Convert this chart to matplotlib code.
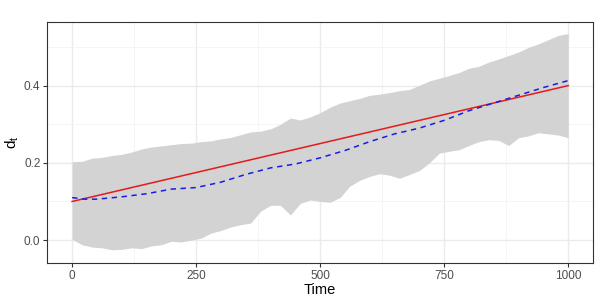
import matplotlib
matplotlib.use("Agg")
import matplotlib.pyplot as plt
from matplotlib.ticker import MultipleLocator

# time grid of the ribbon
band_t = [0, 20, 40, 60, 80, 100, 120, 140, 160, 180, 200, 220, 240, 260, 280, 300,
          320, 340, 360, 380, 400, 420, 440, 460, 480, 500, 520, 540, 560, 580, 600,
          620, 640, 660, 680, 700, 720, 740, 760, 780, 800, 820, 840, 860, 880, 900,
          920, 940, 960, 980, 1000]
band_upper = [0.203, 0.204, 0.212, 0.214, 0.219, 0.222, 0.228, 0.236, 0.241, 0.244, 0.247,
              0.250, 0.251, 0.255, 0.257, 0.262, 0.266, 0.273, 0.280, 0.282, 0.288, 0.300,
              0.316, 0.311, 0.319, 0.330, 0.344, 0.355, 0.361, 0.367, 0.375, 0.378, 0.382,
              0.387, 0.390, 0.401, 0.412, 0.419, 0.426, 0.434, 0.445, 0.450, 0.461, 0.469,
              0.478, 0.487, 0.499, 0.508, 0.519, 0.530, 0.535]
band_lower = [0.002, -0.012, -0.018, -0.020, -0.025, -0.024, -0.020, -0.022, -0.015, -0.012,
              -0.003, -0.005, 0.000, 0.005, 0.018, 0.025, 0.034, 0.040, 0.044, 0.075, 0.090,
              0.090, 0.065, 0.095, 0.104, 0.100, 0.098, 0.110, 0.140, 0.155, 0.165, 0.172,
              0.168, 0.160, 0.170, 0.180, 0.200, 0.225, 0.230, 0.234, 0.245, 0.255, 0.260,
              0.258, 0.245, 0.265, 0.270, 0.278, 0.275, 0.272, 0.265]

# mean trajectory (blue dashed)
mean_t = [0, 25, 50, 100, 150, 200, 250, 300, 350, 400, 450, 500, 550, 600, 650, 700,
          750, 800, 850, 900, 950, 1000]
mean_d = [0.110, 0.106, 0.106, 0.112, 0.120, 0.132, 0.136, 0.150, 0.170, 0.187, 0.197,
          0.213, 0.232, 0.255, 0.275, 0.290, 0.310, 0.335, 0.355, 0.375, 0.395, 0.413]

# true trend (red)
true_t = [0, 1000]
true_d = [0.10, 0.40]

plt.rcParams['font.family'] = ['Liberation Sans', 'DejaVu Sans']

fig = plt.figure(figsize=(5.99, 3.0), dpi=100)
ax = fig.add_axes([0.079, 0.123, 0.911, 0.804])

ax.fill_between(band_t, band_lower, band_upper, color='#D3D3D3', lw=0, zorder=2)
ax.plot(true_t, true_d, color='#E41A1C', lw=1.1, zorder=3)
ax.plot(mean_t, mean_d, color='#1A1AE6', lw=1.1, ls=(0, (3.5, 3)), zorder=4)

ax.set_xlim(-50, 1050)
ax.set_ylim(-0.0596, 0.565)
ax.set_xticks([0, 250, 500, 750, 1000])
ax.set_yticks([0.0, 0.2, 0.4])
ax.set_yticklabels(['0.0', '0.2', '0.4'])
ax.xaxis.set_minor_locator(MultipleLocator(125))
ax.yaxis.set_minor_locator(MultipleLocator(0.1))

ax.grid(True, which='major', color='#EBEBEB', lw=1.0, zorder=0)
ax.grid(True, which='minor', color='#F2F2F2', lw=0.5, zorder=0)
ax.set_axisbelow(True)

for s in ax.spines.values():
    s.set_color('#333333')
    s.set_linewidth(0.8)

ax.tick_params(which='major', length=3, width=0.8, color='#333333',
               labelsize=8.5, labelcolor='#4D4D4D', pad=2)
ax.tick_params(which='minor', length=0)

ax.set_xlabel('Time', fontsize=10.5, labelpad=1)
ax.set_ylabel(r'$\mathregular{d_t}$', fontsize=11, labelpad=2)

fig.savefig('out.png', dpi=100)
